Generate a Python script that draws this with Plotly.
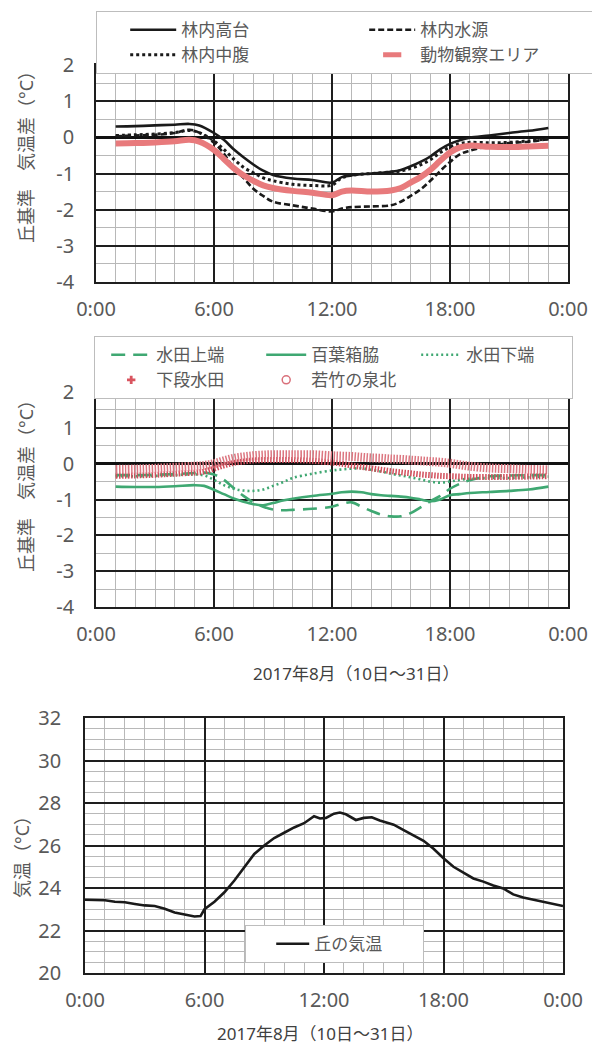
import plotly.graph_objects as go

# ---------------- data ----------------
X_TICK_VALS = [0, 6, 12, 18, 24]
X_TICK_TEXT = ["0:00", "6:00", "12:00", "18:00", "0:00"]
Y_DIFF_TICKS = [2, 1, 0, -1, -2, -3, -4]
Y_TEMP_TICKS = [20, 22, 24, 26, 28, 30, 32]

# panel 1 (hours)
HOURS_1 = [1, 2, 3, 4, 4.75, 5.25, 6, 6.5, 7, 7.5, 8, 8.5, 9, 10, 11, 12, 12.5, 13,
           14, 15, 15.5, 16, 16.5, 17, 17.5, 18, 18.5, 19, 20, 21, 22, 23]
RINNAI_TAKADAI = [0.30, 0.31, 0.33, 0.35, 0.37, 0.33, 0.12, -0.07, -0.33, -0.55, -0.75, -0.92,
                  -1.04, -1.14, -1.18, -1.25, -1.10, -1.05, -1.00, -0.95, -0.90, -0.80, -0.68,
                  -0.53, -0.33, -0.18, -0.08, -0.01, 0.05, 0.12, 0.18, 0.26]
RINNAI_SUIGEN = [0.03, 0.05, 0.07, 0.12, 0.21, 0.13, -0.15, -0.45, -0.85, -1.12, -1.42, -1.62,
                 -1.78, -1.88, -1.97, -2.05, -1.97, -1.93, -1.91, -1.88, -1.78, -1.62, -1.44,
                 -1.20, -0.93, -0.68, -0.47, -0.37, -0.24, -0.16, -0.12, -0.05]
RINNAI_CHUFUKU = [0.05, 0.07, 0.09, 0.13, 0.19, 0.13, -0.10, -0.33, -0.60, -0.83, -0.98, -1.12,
                  -1.20, -1.30, -1.33, -1.32, -1.12, -1.05, -1.00, -0.96, -0.93, -0.86, -0.76,
                  -0.62, -0.42, -0.27, -0.17, -0.14, -0.15, -0.14, -0.10, -0.04]
DOBUTSU_AREA = [-0.17, -0.16, -0.14, -0.11, -0.07, -0.12, -0.35, -0.60, -0.85, -1.05, -1.20, -1.33,
                -1.40, -1.48, -1.53, -1.60, -1.50, -1.47, -1.50, -1.47, -1.40, -1.25, -1.10,
                -0.90, -0.65, -0.42, -0.28, -0.23, -0.26, -0.27, -0.25, -0.23]

# panel 2 (hours)
HOURS_2 = [1, 2, 3, 4, 5, 5.5, 6, 6.5, 7, 7.5, 8, 8.5, 9, 9.5, 10, 11, 12, 12.5, 13, 13.5,
           14, 14.5, 15, 15.5, 16, 16.5, 17, 17.5, 18, 18.5, 19, 20, 21, 22, 23]
SUIDEN_JOTAN = [-0.32, -0.32, -0.31, -0.29, -0.26, -0.25, -0.30, -0.45, -0.68, -0.90, -1.08, -1.20,
                -1.28, -1.30, -1.29, -1.26, -1.20, -1.12, -1.08, -1.20, -1.32, -1.42, -1.47,
                -1.47, -1.38, -1.22, -1.05, -0.90, -0.70, -0.56, -0.46, -0.35, -0.33, -0.32, -0.32]
HYAKUYOBAKO = [-0.64, -0.65, -0.65, -0.63, -0.60, -0.62, -0.73, -0.85, -0.97, -1.06, -1.13, -1.16,
               -1.10, -1.03, -0.98, -0.90, -0.84, -0.80, -0.78, -0.80, -0.85, -0.88, -0.90,
               -0.92, -0.95, -1.00, -1.05, -1.00, -0.88, -0.85, -0.82, -0.79, -0.76, -0.72, -0.64]
SUIDEN_KATAN = [-0.35, -0.35, -0.34, -0.32, -0.30, -0.33, -0.45, -0.60, -0.70, -0.75, -0.76, -0.72,
                -0.62, -0.52, -0.40, -0.28, -0.19, -0.16, -0.14, -0.13, -0.17, -0.22, -0.28,
                -0.33, -0.38, -0.44, -0.50, -0.53, -0.50, -0.45, -0.42, -0.40, -0.40, -0.38, -0.36]
GEDAN_SUIDEN = [-0.34, -0.33, -0.31, -0.28, -0.25, -0.22, -0.14, -0.05, 0.02, 0.06, 0.09, 0.10,
                0.10, 0.10, 0.10, 0.08, 0.03, 0.00, -0.05, -0.09, -0.13, -0.17, -0.21, -0.24,
                -0.27, -0.30, -0.32, -0.34, -0.35, -0.36, -0.37, -0.37, -0.37, -0.36, -0.35]
WAKATAKE_IZUMI = [-0.16, -0.15, -0.13, -0.10, -0.07, -0.05, 0.00, 0.08, 0.15, 0.19, 0.22, 0.24,
                  0.25, 0.25, 0.25, 0.25, 0.22, 0.21, 0.20, 0.18, 0.16, 0.15, 0.13, 0.12, 0.10,
                  0.08, 0.06, 0.04, 0.01, -0.03, -0.07, -0.12, -0.14, -0.16, -0.17]

# panel 3 (hours)
HOURS_3 = [0, 0.5, 1, 1.5, 2, 2.5, 3, 3.5, 4, 4.5, 5, 5.5, 5.8, 6, 6.5, 7, 7.5, 8, 8.5, 9,
           9.5, 10, 10.5, 11, 11.5, 11.8, 12.1, 12.5, 12.8, 13.1, 13.6, 14, 14.4, 14.8, 15.5,
           16, 16.5, 17, 17.5, 18, 18.5, 19, 19.5, 20, 20.5, 21, 21.5, 22, 22.5, 23, 23.5, 24]
OKA_KION = [23.45, 23.45, 23.42, 23.35, 23.33, 23.25, 23.18, 23.15, 23.02, 22.85, 22.75, 22.66,
            22.68, 23.00, 23.35, 23.80, 24.35, 25.00, 25.60, 26.00, 26.35, 26.60, 26.85, 27.05,
            27.38, 27.27, 27.30, 27.50, 27.55, 27.47, 27.20, 27.30, 27.33, 27.18, 26.98, 26.72,
            26.45, 26.22, 25.85, 25.40, 25.00, 24.72, 24.45, 24.30, 24.12, 23.98, 23.70, 23.55,
            23.45, 23.35, 23.25, 23.15]

# ---------------- style ----------------
FONT = "Noto Sans, Noto Sans CJK JP, sans-serif"
GRAY_TXT = "#595959"
MAJOR = "#1e1e1e"
MINOR = "#b8b8b8"
GREEN = "#3fa872"
PINK = "#e87a7c"
W, H = 600, 1052
OFF = 8          # the page body margin offsets the figure by 8 px
PAD = "\u3000"


def px_x(p):
    return (p - OFF) / W


def px_y(p):
    return 1 - (p - OFF) / H


fig = go.Figure()

# panel 1
fig.add_trace(go.Scatter(x=HOURS_1, y=RINNAI_TAKADAI, name="林内高台", mode="lines",
                         line=dict(color="#1a1a1a", width=2.6, shape="spline"),
                         xaxis="x", yaxis="y", legend="legend"))
fig.add_trace(go.Scatter(x=HOURS_1, y=RINNAI_SUIGEN, name="林内水源", mode="lines",
                         line=dict(color="#1a1a1a", width=2.6, dash="6px,3px", shape="spline"),
                         xaxis="x", yaxis="y", legend="legend"))
fig.add_trace(go.Scatter(x=HOURS_1, y=RINNAI_CHUFUKU, name="林内中腹", mode="lines",
                         line=dict(color="#1a1a1a", width=3, dash="3px,3px", shape="spline"),
                         xaxis="x", yaxis="y", legend="legend"))
fig.add_trace(go.Scatter(x=HOURS_1, y=DOBUTSU_AREA, name="動物観察エリア", mode="lines",
                         line=dict(color=PINK, width=6, shape="spline"),
                         xaxis="x", yaxis="y", showlegend=False))
fig.add_trace(go.Scatter(x=[None], y=[None], name="動物観察エリア", mode="markers",
                         marker=dict(symbol="line-ew", size=13, color=PINK,
                                     line=dict(color=PINK, width=5)),
                         xaxis="x", yaxis="y", legend="legend"))

# panel 2
fig.add_trace(go.Scatter(x=HOURS_2, y=SUIDEN_JOTAN, name="水田上端", mode="lines",
                         line=dict(color=GREEN, width=2.6, dash="14px,8px", shape="spline"),
                         xaxis="x2", yaxis="y2", legend="legend2"))
fig.add_trace(go.Scatter(x=HOURS_2, y=HYAKUYOBAKO, name="百葉箱脇", mode="lines",
                         line=dict(color=GREEN, width=2.6, shape="spline"),
                         xaxis="x2", yaxis="y2", legend="legend2"))
fig.add_trace(go.Scatter(x=HOURS_2, y=SUIDEN_KATAN, name="水田下端", mode="lines",
                         line=dict(color=GREEN, width=2.6, dash="2px,3px", shape="spline"),
                         xaxis="x2", yaxis="y2", legend="legend2"))
fig.add_trace(go.Scatter(x=HOURS_2, y=GEDAN_SUIDEN, name="下段水田", mode="lines",
                         line=dict(color="#d24e5b", width=6, dash="1.5px,1.5px", shape="spline"),
                         xaxis="x2", yaxis="y2", showlegend=False))
fig.add_trace(go.Scatter(x=[None], y=[None], name="下段水田", mode="markers",
                         marker=dict(symbol="cross", size=7, color="#d9545f"),
                         xaxis="x2", yaxis="y2", legend="legend2"))
fig.add_trace(go.Scatter(x=HOURS_2, y=WAKATAKE_IZUMI, name="若竹の泉北", mode="lines",
                         line=dict(color="#dc7680", width=9, dash="1.5px,1.5px", shape="spline"),
                         xaxis="x2", yaxis="y2", showlegend=False))
fig.add_trace(go.Scatter(x=[None], y=[None], name="若竹の泉北", mode="markers",
                         marker=dict(symbol="circle-open", size=8, color="#d9707a",
                                     line=dict(width=1.5)),
                         xaxis="x2", yaxis="y2", legend="legend2"))

# panel 3
fig.add_trace(go.Scatter(x=HOURS_3, y=OKA_KION, name="丘の気温", mode="lines",
                         line=dict(color="#1a1a1a", width=2.6),
                         xaxis="x3", yaxis="y3", legend="legend3"))


def xax(domain, anchor):
    return dict(domain=domain, anchor=anchor, range=[0, 24], tickmode="array",
                tickvals=X_TICK_VALS, ticktext=X_TICK_TEXT, showgrid=True,
                gridcolor=MAJOR, gridwidth=1.5, showline=True, mirror=True,
                linecolor=MAJOR, linewidth=1.5, zeroline=False, ticks="",
                ticklabelstandoff=8, automargin=False,
                tickfont=dict(family=FONT, size=20, color=GRAY_TXT),
                minor=dict(tickmode="linear", tick0=0, dtick=1, showgrid=True,
                           gridcolor=MINOR, gridwidth=1, ticks=""))


def yax(domain, anchor, rng, ticks, minor_dtick, zero, standoff):
    return dict(domain=domain, anchor=anchor, range=rng, tickmode="array",
                tickvals=ticks, ticktext=[str(t) for t in ticks], showgrid=True,
                gridcolor=MAJOR, gridwidth=1.5, showline=True, mirror=True,
                linecolor=MAJOR, linewidth=1.5, zeroline=zero, zerolinecolor="#111111",
                zerolinewidth=2.6, ticks="", ticklabelstandoff=standoff, automargin=False,
                tickfont=dict(family=FONT, size=20, color=GRAY_TXT),
                minor=dict(tickmode="linear", tick0=rng[0], dtick=minor_dtick, showgrid=True,
                           gridcolor=MINOR, gridwidth=1, ticks=""))


def legend_box(x, y, itemwidth, entrywidth, pad_size):
    return dict(orientation="h", xanchor="left", yanchor="top", bgcolor="white",
                bordercolor="#bdbdbd", borderwidth=1.2, entrywidthmode="pixels",
                font=dict(family=FONT, size=17, color=GRAY_TXT), itemwidth=itemwidth,
                entrywidth=entrywidth, x=x, y=y,
                title=dict(text=PAD, side="left", font=dict(size=pad_size)))


def ann(text, x, y, size, color, angle=0):
    return dict(text=text, x=px_x(x), y=px_y(y), xref="paper", yref="paper",
                xanchor="center", yanchor="middle", textangle=angle, showarrow=False,
                font=dict(family=FONT, size=size, color=color))


fig.update_layout(
    width=W, height=H, margin=dict(l=0, r=0, t=0, b=0, autoexpand=False),
    paper_bgcolor="white", plot_bgcolor="white",
    font=dict(family=FONT, color=GRAY_TXT),
    xaxis=xax([px_x(96), px_x(568)], "y"),
    yaxis=yax([px_y(282), px_y(65)], "x", [-4, 2], Y_DIFF_TICKS, 0.5, True, 16),
    xaxis2=xax([px_x(96), px_x(568)], "y2"),
    yaxis2=yax([px_y(607), px_y(392)], "x2", [-4, 2], Y_DIFF_TICKS, 0.5, True, 16),
    xaxis3=xax([px_x(85), px_x(563)], "y3"),
    yaxis3=yax([px_y(973), px_y(718)], "x3", [20, 32], Y_TEMP_TICKS, 0.5, False, 18),
    legend=legend_box(px_x(96), px_y(11), 46, 178, 18),
    legend2=legend_box(px_x(94), px_y(336), 40, 100, 1),
    legend3=legend_box(px_x(245), px_y(925), 33, 103, 15),
    annotations=[
        ann("丘基準　気温差（°C）", 26, 153, 18, GRAY_TXT, -90),
        ann("丘基準　気温差（°C）", 26, 482, 18, GRAY_TXT, -90),
        ann("気温（°C）", 22, 853, 18, GRAY_TXT, -90),
        ann("2017年8月（10日～31日）", 356, 673, 17, "#404040"),
        ann("2017年8月（10日～31日）", 320, 1033, 17, "#404040"),
    ],
)

fig.write_html("out.html")
